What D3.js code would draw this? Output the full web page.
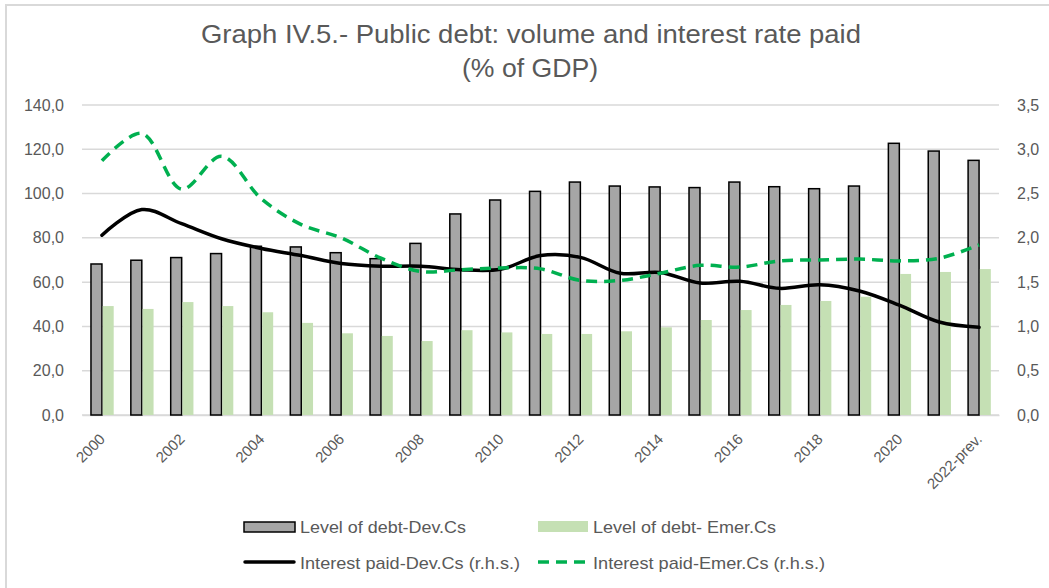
<!DOCTYPE html>
<html><head><meta charset="utf-8">
<script src="https://cdn.jsdelivr.net/npm/d3@7"></script>
<style>
html,body{margin:0;padding:0;background:#fff;}
svg{display:block;}
</style></head>
<body>
<svg id="chart" width="1049" height="588"></svg>
<script>
const categories = ["2000","2001","2002","2003","2004","2005","2006","2007","2008","2009","2010","2011","2012","2013","2014","2015","2016","2017","2018","2019","2020","2021","2022-prev."];
const tickLabels = ["2000","2002","2004","2006","2008","2010","2012","2014","2016","2018","2020","2022-prev."];
const debtDev = [68.2,69.9,71.1,72.9,76.2,75.9,73.3,70.6,77.5,90.8,97.1,101.0,105.2,103.4,103.0,102.7,105.2,103.1,102.2,103.4,122.7,119.2,115.0];
const debtEmer = [49.2,47.9,51.0,49.2,46.4,41.6,36.9,35.7,33.4,38.3,37.3,36.6,36.6,37.8,39.6,42.9,47.4,49.7,51.5,53.4,63.7,64.6,65.9];
const intDev = [2.03,2.32,2.16,1.99,1.88,1.80,1.71,1.68,1.68,1.64,1.645,1.80,1.78,1.60,1.61,1.49,1.51,1.43,1.47,1.40,1.24,1.05,0.99];
const intEmer = [2.87,3.18,2.55,2.92,2.44,2.15,2.00,1.77,1.62,1.64,1.66,1.65,1.52,1.52,1.60,1.69,1.67,1.74,1.75,1.76,1.74,1.77,1.92];
const leftTicks = [0,20,40,60,80,100,120,140];
const rightTicks = [0,0.5,1,1.5,2,2.5,3,3.5];
const seriesNames = ["Level of debt-Dev.Cs","Level of debt- Emer.Cs","Interest paid-Dev.Cs (r.h.s.)","Interest paid-Emer.Cs (r.h.s.)"];
const titleLines = ["Graph IV.5.- Public debt: volume and interest rate paid","(% of GDP)"];

const svg = d3.select("#chart");
const grey = "#595959";
const fmt = v => d3.format(".1f")(v).replace(".", ",");

// chart border (top/left visible)
svg.append("path").attr("d","M6,590 V5 H1060").attr("fill","none").attr("stroke","#d9d9d9").attr("stroke-width",2);

const x = d3.scaleBand().domain(categories).range([82,999]).paddingInner(0.45).paddingOuter(0.225);
const xi = d3.scaleBand().domain(["dev","emer"]).range([0,x.bandwidth()]);
const yL = d3.scaleLinear().domain([0,140]).range([415,105]);
const yR = d3.scaleLinear().domain([0,3.5]).range([415,105]);

// title
const title = svg.append("text").attr("text-anchor","middle")
  .attr("font-family","'Liberation Sans',Arial,sans-serif")
  .attr("font-size",25).attr("fill",grey);
title.append("tspan").attr("x",531).attr("y",43).attr("textLength",660).attr("lengthAdjust","spacingAndGlyphs").text(titleLines[0]);
title.append("tspan").attr("x",530).attr("y",77).attr("textLength",136).attr("lengthAdjust","spacingAndGlyphs").text(titleLines[1]);

// gridlines
svg.append("g").selectAll("line").data(leftTicks).join("line")
  .attr("x1",82).attr("x2",999).attr("y1",d=>yL(d)).attr("y2",d=>yL(d))
  .attr("stroke","#d9d9d9").attr("stroke-width",1.5);

// left axis
const axL = svg.append("g").attr("transform","translate(82,0)")
  .call(d3.axisLeft(yL).tickValues(leftTicks).tickFormat(fmt).tickSize(0).tickPadding(18));
axL.select(".domain").remove();
axL.selectAll("text").attr("font-family","'Liberation Sans',Arial,sans-serif").attr("font-size",16).attr("fill",grey);

// right axis
const axR = svg.append("g").attr("transform","translate(999,0)")
  .call(d3.axisRight(yR).tickValues(rightTicks).tickFormat(fmt).tickSize(0).tickPadding(18));
axR.select(".domain").remove();
axR.selectAll("text").attr("font-family","'Liberation Sans',Arial,sans-serif").attr("font-size",16).attr("fill",grey);

// bottom axis
const axB = svg.append("g").attr("transform","translate(0,415)")
  .call(d3.axisBottom(x).tickValues(tickLabels).tickSize(0).tickPadding(0));
axB.select(".domain").attr("stroke","#d9d9d9").attr("stroke-width",1.5);
axB.selectAll("text").attr("font-family","'Liberation Sans',Arial,sans-serif").attr("font-size",15).attr("fill",grey)
  .attr("text-anchor","end").attr("dy",0).attr("y",0).attr("transform","translate(4,25) rotate(-45)");

// bars
const g = svg.append("g");
g.selectAll("rect.dev").data(categories).join("rect").attr("class","dev")
  .attr("x",(c)=>x(c)+xi("dev")).attr("width",xi.bandwidth())
  .attr("y",(c,i)=>yL(debtDev[i])).attr("height",(c,i)=>yL(0)-yL(debtDev[i]))
  .attr("fill","#a6a6a6").attr("stroke","#000").attr("stroke-width",1.5);
g.selectAll("rect.emer").data(categories).join("rect").attr("class","emer")
  .attr("x",(c)=>x(c)+xi("emer")+0.8).attr("width",xi.bandwidth())
  .attr("y",(c,i)=>yL(debtEmer[i])).attr("height",(c,i)=>yL(0)-yL(debtEmer[i]))
  .attr("fill","#c5e0b4");

// lines
const cx = c => x(c)+x.bandwidth()/2;
const lineR = d3.line().x(d=>cx(d[0])).y(d=>yR(d[1])).curve(d3.curveCatmullRom.alpha(0.5));
svg.append("path").datum(categories.map((c,i)=>[c,intDev[i]])).attr("d",lineR)
  .attr("fill","none").attr("stroke","#000").attr("stroke-width",3.5).attr("stroke-linecap","round");
svg.append("path").datum(categories.map((c,i)=>[c,intEmer[i]])).attr("d",lineR)
  .attr("fill","none").attr("stroke","#00b050").attr("stroke-width",3.5).attr("stroke-dasharray","11,7");

// legend
const lf = "'Liberation Sans',Arial,sans-serif";
const leg = svg.append("g");
leg.append("rect").attr("x",244).attr("y",522).attr("width",51).attr("height",10)
  .attr("fill","#a6a6a6").attr("stroke","#000").attr("stroke-width",1.5);
leg.append("text").attr("x",300).attr("y",533).attr("textLength",166).text(seriesNames[0]);
leg.append("rect").attr("x",538).attr("y",521).attr("width",50).attr("height",11).attr("fill","#c5e0b4");
leg.append("text").attr("x",593).attr("y",533).attr("textLength",183).text(seriesNames[1]);
leg.append("line").attr("x1",245).attr("x2",294).attr("y1",562).attr("y2",562)
  .attr("stroke","#000").attr("stroke-width",3.5).attr("stroke-linecap","round");
leg.append("text").attr("x",300).attr("y",569).attr("textLength",220).text(seriesNames[2]);
leg.append("line").attr("x1",538).attr("x2",588).attr("y1",562).attr("y2",562)
  .attr("stroke","#00b050").attr("stroke-width",3.5).attr("stroke-dasharray","11,7");
leg.append("text").attr("x",593).attr("y",569).attr("textLength",232).text(seriesNames[3]);
leg.selectAll("text").attr("font-family",lf).attr("font-size",17).attr("fill",grey).attr("lengthAdjust","spacingAndGlyphs");
</script>
</body></html>
